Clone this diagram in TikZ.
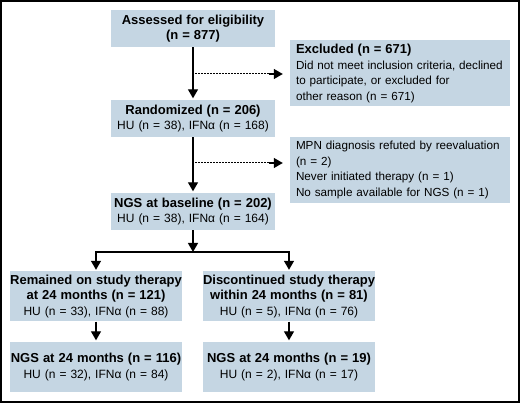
\documentclass[tikz,border=0pt]{standalone}
\usepackage{fontspec}
\setmainfont{Liberation Sans}
\usetikzlibrary{arrows.meta,positioning,calc}

\definecolor{boxblue}{RGB}{197,214,227}
\newcommand{\hd}[1]{{\fontsize{13}{15.5}\selectfont\bfseries #1}}

\begin{document}
\begin{tikzpicture}[
    x=1pt, y=-1pt,
    font=\fontsize{12}{15.5}\selectfont,
    mainbox/.style={rectangle, fill=boxblue, text width=162pt, align=center, minimum width=164pt, minimum height=37pt, inner sep=0pt},
    sidebox/.style={rectangle, fill=boxblue, font=\fontsize{11.7}{15.5}\selectfont, text width=208pt, align=left, minimum width=220pt, minimum height=66pt, inner xsep=6pt, inner ysep=0pt},
    armbox/.style={rectangle, fill=boxblue, text width=172pt, align=center, minimum width=172pt, minimum height=50pt, inner sep=0pt},
    arrow/.style={-{Triangle[width=10pt,length=9pt]}, line width=1.3pt, shorten >=1.5pt},
    dotline/.style={line width=1pt, dash pattern=on 1.5pt off 1.5pt, shorten <=2pt}
]

% Frame
\useasboundingbox (0,0) rectangle (520,403);
\draw[line width=2pt] (1,1) rectangle (519,402);

% Main flow
\node[mainbox] (assess) at (193,28.5) {\hd{Assessed for eligibility}\\\hd{(n = 877)}};
\node[mainbox] (rand) at (193,118.5) {\hd{Randomized (n = 206)}\\HU (n = 38), IFNα (n = 168)};
\node[mainbox] (base) at (193,211.5) {\hd{NGS at baseline (n = 202)}\\HU (n = 38), IFNα (n = 164)};

% Exclusions
\node[sidebox] (excl) at (400,73.5) {\hd{Excluded (n = 671)}\\Did not meet inclusion criteria, declined\\to participate, or excluded for\\other reason (n = 671)};
\node[sidebox] (lost) at (400,170) {MPN diagnosis refuted by reevaluation\\(n = 2)\\Never initiated therapy (n = 1)\\No sample available for NGS (n = 1)};

% Arms
\node[armbox] (remain) at (96,296.5) {\hd{Remained on study therapy}\\\hd{at 24 months (n = 121)}\\HU (n = 33), IFNα (n = 88)};
\node[armbox] (disc) at (289,296.5) {\hd{Discontinued study therapy}\\\hd{within 24 months (n = 81)}\\HU (n = 5), IFNα (n = 76)};
\node[armbox] (ngsl) at (96,367) {\hd{NGS at 24 months (n = 116)}\\HU (n = 32), IFNα (n = 84)};
\node[armbox] (ngsr) at (289,367) {\hd{NGS at 24 months (n = 19)}\\HU (n = 2), IFNα (n = 17)};

% Connections
\coordinate (exclfrom) at (193,74);
\coordinate (excltip) at ($(exclfrom -| excl.west)+(-7,0)$);
\coordinate (exclto) at ($(excltip)+(-14,0)$);
\coordinate (lostfrom) at (193,163);
\coordinate (losttip) at ($(lostfrom -| lost.west)+(-7,0)$);
\coordinate (lostto) at ($(losttip)+(-14,0)$);
\coordinate (split) at (193,252);
\draw[arrow] (assess) -- (rand);
\draw[dotline] (exclfrom) -- (exclto);
\draw[arrow, shorten >=0pt] (exclto) -- (excltip);
\draw[arrow] (rand) -- (base);
\draw[dotline] (lostfrom) -- (lostto);
\draw[arrow, shorten >=0pt] (lostto) -- (losttip);
\draw[arrow, shorten >=0pt] (base) -- (split);
\draw[arrow] (split) -| (remain.north);
\draw[arrow] (split) -| (disc.north);
\draw[arrow] (remain) -- (ngsl);
\draw[arrow] (disc) -- (ngsr);

\end{tikzpicture}
\end{document}
